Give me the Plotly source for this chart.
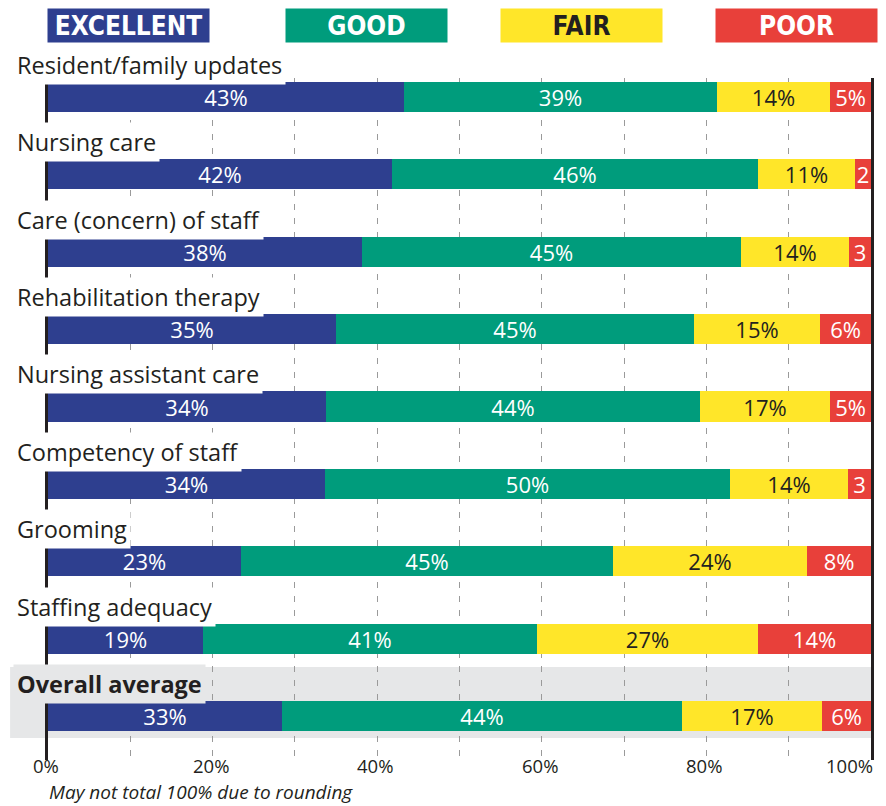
import plotly.graph_objects as go

# Survey categories, top to bottom
categories = [
    "Resident/family updates",
    "Nursing care",
    "Care (concern) of staff",
    "Rehabilitation therapy",
    "Nursing assistant care",
    "Competency of staff",
    "Grooming",
    "Staffing adequacy",
    "Overall average",
]

# Segment widths as drawn (percent of the 0-100 axis)
excellent = [43.2, 41.8, 38.1, 35.0, 33.8, 33.7, 23.4, 18.8, 28.4]
good = [38.1, 44.5, 46.1, 43.5, 45.4, 49.2, 45.3, 40.6, 48.6]
fair = [13.7, 11.8, 13.1, 15.3, 15.8, 14.3, 23.5, 26.9, 17.0]
poor = [5.0, 1.9, 2.7, 6.2, 5.0, 2.8, 7.8, 13.7, 6.0]

# Printed labels inside each segment
excellent_lbl = ["43%", "42%", "38%", "35%", "34%", "34%", "23%", "19%", "33%"]
good_lbl = ["39%", "46%", "45%", "45%", "44%", "50%", "45%", "41%", "44%"]
fair_lbl = ["14%", "11%", "14%", "15%", "17%", "14%", "24%", "27%", "17%"]
poor_lbl = ["5%", "2", "3", "6%", "5%", "3", "8%", "14%", "6%"]

series_names = ["EXCELLENT", "GOOD", "FAIR", "POOR"]
tick_vals = [0, 20, 40, 60, 80, 100]
tick_text = ["0%", "20%", "40%", "60%", "80%", "100%"]
footnote = "May not total 100% due to rounding"

COLORS = ["#2e3f8f", "#009c7c", "#ffe629", "#e8403a"]
TEXT_COLORS = ["white", "white", "#231f20", "white"]
FONT = "Open Sans, Noto Sans, sans-serif"
NARROW = "Liberation Sans Narrow, DejaVu Sans Condensed, sans-serif"
BAND = "#e6e7e8"

W, H = 886, 806
L, R, T, B = 48, 13, 78, 46
PW, PH = W - L - R, H - T - B
ROW_PX = 77.375  # vertical distance between rows
ROW0_PX = 97     # centre of first bar

def px_x(px):
    return (px - L) / PW

def px_y(py):
    return (H - B - py) / PH

rows = list(range(len(categories)))
fig = go.Figure()

for vals, lbls, name, col, tcol in zip(
    [excellent, good, fair, poor],
    [excellent_lbl, good_lbl, fair_lbl, poor_lbl],
    series_names, COLORS, TEXT_COLORS,
):
    fig.add_trace(go.Bar(
        x=vals, y=rows, orientation="h", name=name,
        marker=dict(color=col, line=dict(width=0)),
        width=0.39,
        text=lbls, textposition="inside", insidetextanchor="middle",
        textangle=0, constraintext="none",
        textfont=dict(family=FONT, size=22, color=tcol),
        showlegend=False, hoverinfo="skip",
    ))

annotations = []

# category labels above each bar (box hides the axis line behind the text)
for i, cat in enumerate(categories):
    last = i == len(categories) - 1
    annotations.append(dict(
        x=px_x(13), xref="paper", xanchor="left",
        y=px_y(ROW0_PX + ROW_PX * i - 32), yref="paper", yanchor="middle",
        text=f"<b>{cat}</b>" if last else cat,
        showarrow=False, bgcolor=BAND if last else "white", borderpad=3,
        font=dict(family=FONT, size=23.5, color="#231f20"),
    ))

# legend boxes along the top
legend_left = [48, 287, 502, 718]
for name, col, tcol, lx in zip(series_names, COLORS, TEXT_COLORS, legend_left):
    annotations.append(dict(
        x=px_x(lx + 80.5), xref="paper", xanchor="center",
        y=px_y(25.5), yref="paper", yanchor="middle",
        text=f"<b>{name}</b>", showarrow=False,
        width=161, height=33, bgcolor=col, borderpad=0, align="center",
        font=dict(family=NARROW, size=26, color=tcol),
    ))

# x tick labels
for v, t in zip(tick_vals, tick_text):
    annotations.append(dict(
        x=v, xref="x", xanchor="right" if v == 100 else "center",
        xshift=3 if v == 100 else -2,
        y=px_y(752), yref="paper", yanchor="top", borderpad=0,
        text=t, showarrow=False,
        font=dict(family=FONT, size=18.5, color="#231f20"),
    ))

annotations.append(dict(
    x=0, xref="paper", xanchor="left",
    y=px_y(806), yref="paper", yanchor="bottom", borderpad=0,
    text=f"<i>{footnote}</i>", showarrow=False,
    font=dict(family=FONT, size=19, color="#231f20"),
))

# grey band behind the overall average row
shapes = [dict(
    type="rect", xref="paper", yref="paper", layer="below",
    x0=px_x(10), x1=1.0, y0=px_y(738), y1=px_y(667),
    fillcolor=BAND, line=dict(width=0),
)]

fig.update_layout(
    width=W, height=H,
    margin=dict(l=L, r=R, t=T, b=B),
    barmode="stack", bargap=0,
    paper_bgcolor="white", plot_bgcolor="rgba(0,0,0,0)",
    annotations=annotations, shapes=shapes,
    xaxis=dict(
        range=[0, 100], dtick=10, showticklabels=False, ticks="",
        showgrid=True, gridcolor="#9a9a9a", gridwidth=1, griddash="6px,8px",
        zeroline=False, showline=False, fixedrange=True,
    ),
    yaxis=dict(
        range=[8.569, -0.2456], showticklabels=False, ticks="",
        showgrid=False, zeroline=False,
        showline=True, linecolor="#231f20", linewidth=2.5, mirror=True,
        fixedrange=True,
    ),
)

fig.write_html(
    "out.html",
    config={"displayModeBar": False},
    post_script="document.body.style.margin='0';",
)
